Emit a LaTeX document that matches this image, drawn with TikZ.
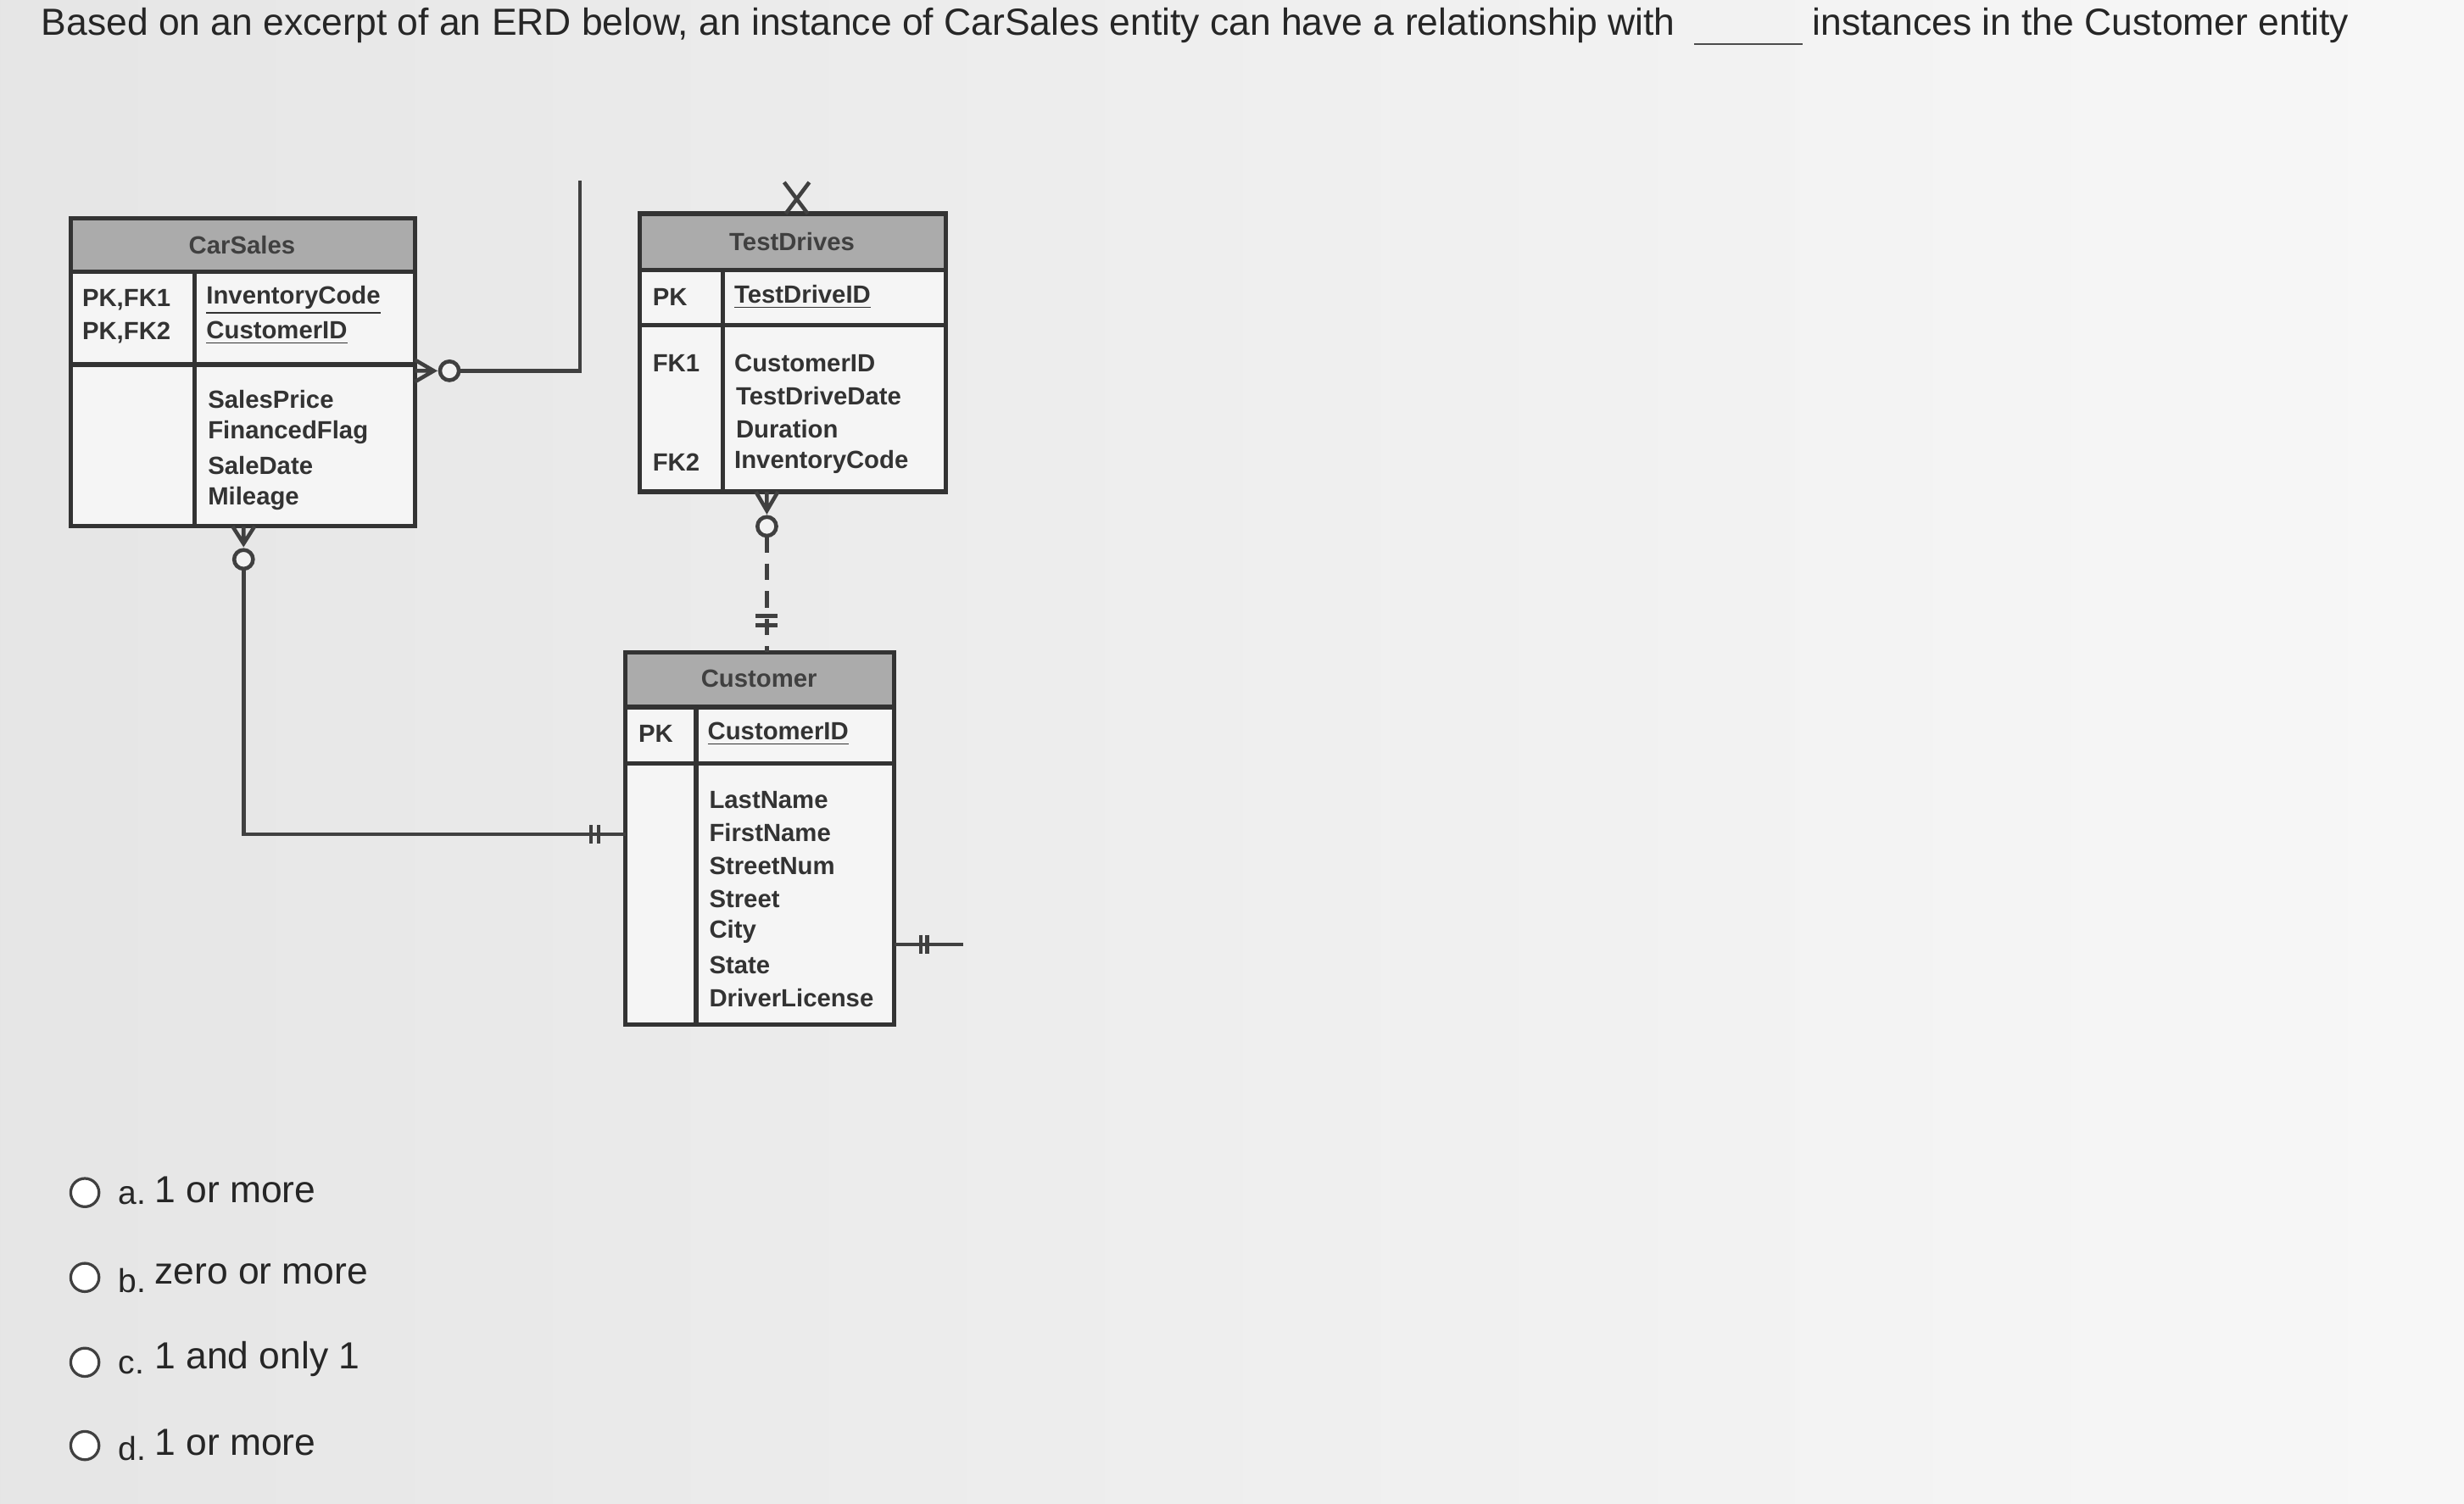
\documentclass[tikz,border=0pt]{standalone}
\usepackage{fontspec}
\setmainfont{Liberation Sans}
\begin{document}
\begin{tikzpicture}[x=0.02cm,y=-0.02cm,
  tbl/.style={draw=black!80,line width=1.6pt,fill=black!4},
  hdr/.style={draw=black!80,line width=1.6pt,fill=black!33},
  ttl/.style={font=\fontsize{9}{10}\selectfont\bfseries,text=black!75},
  attr/.style={font=\fontsize{9}{11}\selectfont\bfseries,text=black!80,anchor=west,inner sep=0pt},
  lnk/.style={draw=black!75,line width=1.4pt},
  q/.style={font=\fontsize{13.65}{15}\selectfont,text=black!85,anchor=west,inner sep=0pt}]
\shade[left color=black!10,right color=black!3] (0,0) rectangle (1568,957);
\useasboundingbox (0,0) rectangle (1568,957);
% question
\node[q] (qa) at (26,16) {Based on an excerpt of an ERD below, an instance of CarSales entity can have a relationship with};
\draw[black!70,line width=0.6pt] (1078,28) -- (1147,28);
\node[q] (qb) at (1153,16) {instances in the Customer entity};
% CarSales
\draw[tbl] (45,139) rectangle (264,335);
\draw[hdr] (45,139) rectangle (264,173);
\draw[tbl,fill=none] (45,173) -- (264,173) (45,232) -- (264,232) (124,173) -- (124,335);
\node[ttl] (cs) at (154,156) {CarSales};
\node[attr] (cs1) at (52,191) {PK,FK1};
\node[attr] (cs2) at (52,212) {PK,FK2};
\node[attr] (cs3) at (131,191) {\underline{InventoryCode}};
\node[attr] (cs4) at (131,212) {\underline{CustomerID}};
\node[attr] (cs5) at (132,254) {SalesPrice};
\node[attr] (cs6) at (132,275) {FinancedFlag};
\node[attr] (cs7) at (132,296) {SaleDate};
\node[attr] (cs8) at (132,317) {Mileage};
% TestDrives
\draw[tbl] (407,136) rectangle (602,313);
\draw[hdr] (407,136) rectangle (602,172);
\draw[tbl,fill=none] (407,207) -- (602,207) (460,172) -- (460,313);
\node[ttl] (td) at (504,154) {TestDrives};
\node[attr] (td1) at (415,189) {PK};
\node[attr] (td2) at (467,189) {\underline{TestDriveID}};
\node[attr] (td3) at (415,231) {FK1};
\node[attr] (td4) at (467,231) {CustomerID};
\node[attr] (td5) at (468,252) {TestDriveDate};
\node[attr] (td6) at (468,273) {Duration};
\node[attr] (td7) at (415,294) {FK2};
\node[attr] (td8) at (467,294) {InventoryCode};
% Customer
\draw[tbl] (398,415) rectangle (569,652);
\draw[hdr] (398,415) rectangle (569,450);
\draw[tbl,fill=none] (398,486) -- (569,486) (443,450) -- (443,652);
\node[ttl] (cu) at (483,432) {Customer};
\node[attr] (cu1) at (406,467) {PK};
\node[attr] (cu2) at (450,467) {\underline{CustomerID}};
\foreach \t [count=\i] in {LastName,FirstName,StreetNum,Street,City,State,DriverLicense}
  \node[attr] (cua\i) at (451,488+21*\i) {\t};
% connectors
\coordinate (c1) at (264,236); \coordinate (c1e) at (369,115);
\draw[lnk] (c1) -- (276,236) (264,229) -- (276,236) -- (264,243);
\draw[lnk,fill=black!5] (286,236) circle (6);
\draw[lnk] (292,236) -| (c1e);
\coordinate (c2) at (155,335); \coordinate (c2e) at (398,531);
\draw[lnk] (148,335) -- (155,346) -- (162,335) (155,335) -- (155,346);
\draw[lnk,fill=black!5] (155,356) circle (6);
\draw[lnk] (155,362) |- (c2e);
\draw[lnk] (376,525) -- (376,537) (381,525) -- (381,537);
\coordinate (c3) at (488,313); \coordinate (c3e) at (488,415);
\draw[lnk] (481,313) -- (488,325) -- (495,313) (488,313) -- (488,325);
\draw[lnk,fill=black!5] (488,335) circle (6);
\draw[lnk,dashed,dash pattern=on 6pt off 4pt] (488,341) -- (c3e);
\draw[lnk] (481,392) -- (495,392) (481,398) -- (495,398);
\coordinate (c4) at (507,124);
\draw[lnk] (499,116) -- (514,136) (515,116) -- (500,136);
\coordinate (c5) at (569,601); \coordinate (c5e) at (613,601);
\draw[lnk] (c5) -- (c5e) (586,595) -- (586,607) (590,595) -- (590,607);
% options
\foreach \y/\l/\t [count=\i] in {759/a./1 or more,813/b./zero or more,867/c./1 and only 1,920/d./1 or more}{
  \draw[black!75,line width=1pt,fill=white] (54,\y) circle (9);
  \node[q,font=\fontsize{12}{14}\selectfont] (ol\i) at (75,\y+2) {\l};
  \node[q] (ot\i) at (98,\y-2) {\t};
}
\end{tikzpicture}
\end{document}
